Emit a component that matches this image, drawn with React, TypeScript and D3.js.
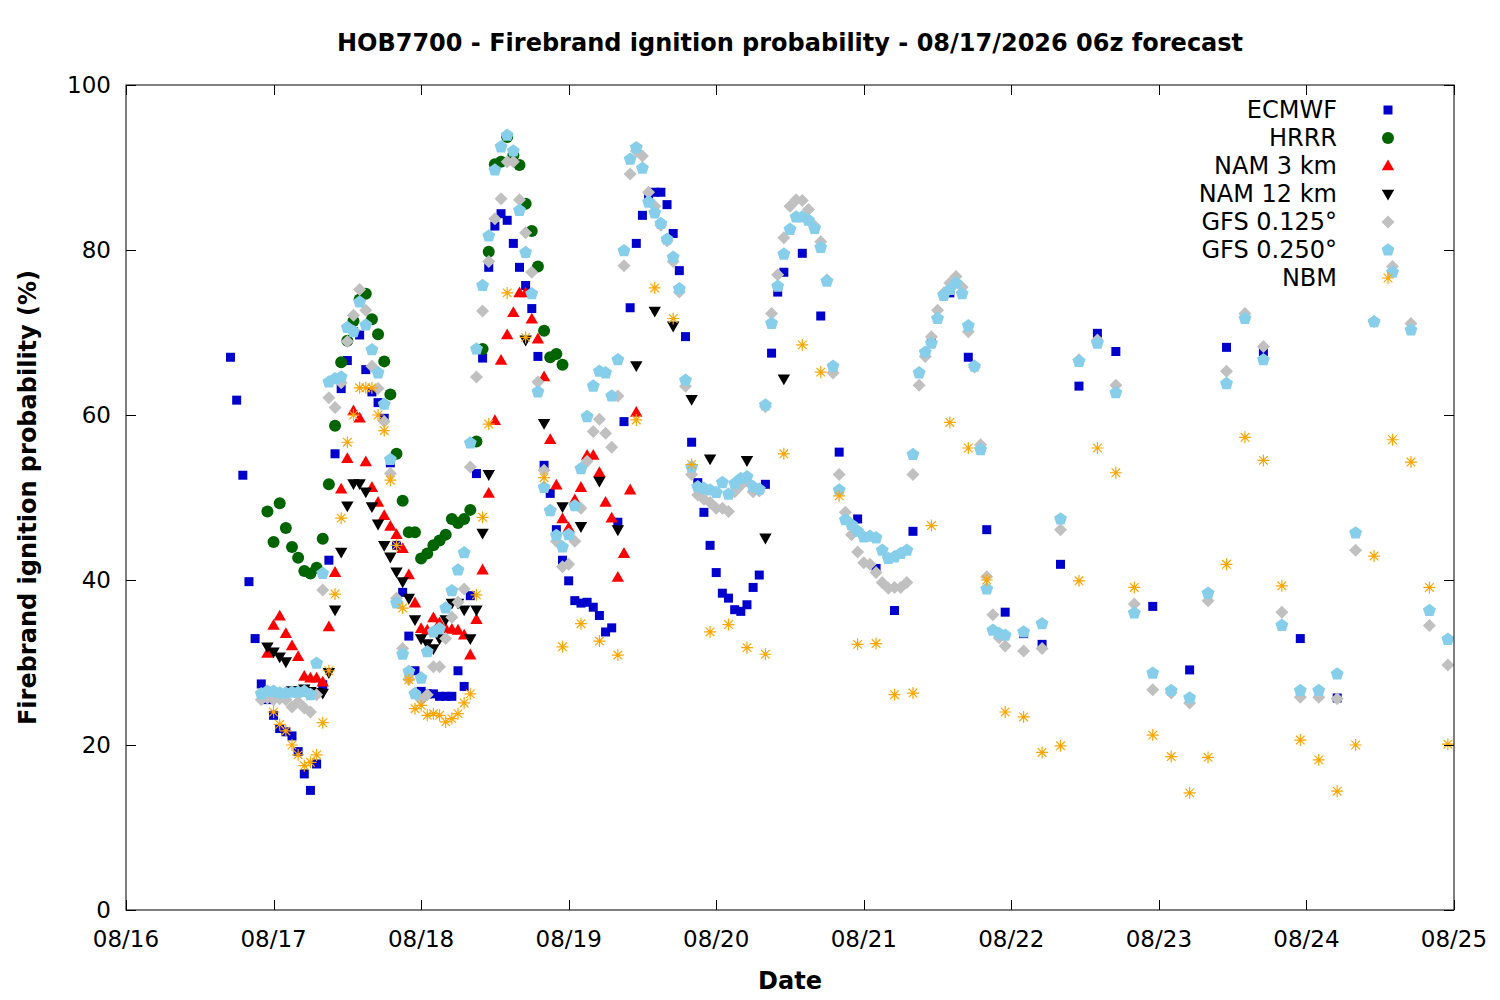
import React, { useEffect, useRef } from "react";
import * as d3 from "d3";

// hours are counted from 08/16 00z; each segment is a run of values at a fixed step
interface Segment {
  start: number;
  step: number;
  values: (number | null)[];
}

const dayLabels = ["08/16", "08/17", "08/18", "08/19", "08/20", "08/21", "08/22", "08/23", "08/24", "08/25"];
const yTicks = [0, 20, 40, 60, 80, 100];

const ecmwf: Segment[] = [
  {
    start: 17,
    step: 1,
    values: [
      67.0, 61.8, 52.7, 39.8, 32.9, 27.4, 25.5, 23.6, 22.0, 21.6, 21.1, 19.2, 16.5, 14.5, 17.7, 27.3,
      42.4, 55.3, 63.2, 66.6, 70.1, 69.7, 65.5, 62.8, 61.5, 59.6, 54.2, 44.2, 38.5, 33.2, 29.0, 26.5,
      26.2, 26.2, 25.9, 25.9, 25.9, 29.0, 27.1, 38.1, 52.9, 66.9, 77.9, 82.9, 84.4, 83.6, 80.8, 77.9,
      75.7, 72.9, 67.1, 53.9, 50.5, 46.1, 42.4, 39.9, 37.5, 37.2, 37.3, 36.7, 35.7, 33.7, 34.2, 47.0,
      59.2, 73.0, 80.8, 84.2, 86.4, 87.0, 87.0, 85.5, 82.0, 77.5, 69.5, 56.7, 51.8, 48.2, 44.2, 40.9,
      38.4, 37.8, 36.4, 36.2, 37.0, 39.1, 40.6, 51.6, 67.5, 74.9, 77.3,
    ],
  },
  {
    start: 110,
    step: 3,
    values: [79.6, 72.0, 55.5, 47.4, 41.4, 36.3, 45.9, 69.0, 74.8, 67.0, 46.1, 36.1, 33.5, 32.2, 41.9, 63.5, 69.9, 67.7],
  },
  { start: 167, step: 6, values: [36.8, 29.1, 68.2, 67.7, 32.9, 25.7] },
];

const hrrr: Segment[] = [
  {
    start: 23,
    step: 1,
    values: [
      48.3, 44.6, 49.3, 46.3, 44.0, 42.7, 41.1, 40.8, 41.5, 45.0, 51.6, 58.7, 66.4, 69.0, 71.4, 74.0,
      74.7, 71.6, 69.8, 66.5, 62.5, 55.3, 49.6, 45.8, 45.8, 42.6, 43.2, 44.2, 44.8, 45.5, 47.4, 46.9,
      47.4, 48.5, 56.8, 68.0, 79.8, 90.4, 90.7, 93.7, 91.5, 90.3, 85.6, 82.3, 78.0, 70.2, 67.0, 67.4,
      66.1,
    ],
  },
];

const nam3: Segment[] = [
  {
    start: 23,
    step: 1,
    values: [
      31.1, 34.5, 35.6, 33.5, 32.0, 30.7, 28.3, 28.1, 28.1, 27.6, 34.3, 40.9, 51.0, 54.7, 60.5, 59.6,
      54.3, 51.2, 49.4, 47.8, 46.5, 45.5, 43.8, 40.6, 37.2, 34.1, 33.9, 35.4, 34.8, 34.1, 34.0, 33.9,
      33.3, 30.9, 35.2, 41.2, 50.5, 59.3, 66.6, 69.7, 72.4, 74.8, 74.8, 71.6, 69.2, 64.6, 57.0, 51.5,
      47.4, 46.3, 49.7, 51.2, 55.1, 55.1, 53.0, 49.4, 47.5, 40.3, 43.2, 50.9, 60.3,
    ],
  },
];

const nam12: Segment[] = [
  {
    start: 23,
    step: 1,
    values: [
      31.9, 31.3, 30.7, 30.1, 26.6, 26.6, 26.8, 26.5, 26.4, 26.3, 28.8, 36.4, 43.4, 49.0, 51.7, 51.7,
      50.7, 48.9, 46.8, 44.2, 42.8, 41.0, 39.8, 37.8, 35.2, 32.9, 32.3, 31.7, 32.9, 35.2, 37.2, 37.2,
      36.4, 32.9, 36.4, 45.7, 52.8,
    ],
  },
  { start: 65, step: 3, values: [69.1, 59.0, 48.9, 46.5, 52.0, 46.1, 66.0, 72.6, 70.8, 61.9, 54.7, null, 54.5, 45.1, 64.4] },
];

const gfs0125: Segment[] = [
  {
    start: 22,
    step: 1,
    values: [
      25.5, 25.7, 25.5, 25.6, 25.5, 24.6, 25.2, 24.5, 24.0, 26.1, 38.8, 62.1, 60.9, 63.9, 68.9, 72.1,
      75.2, 72.7, 65.9, 63.2, 59.2, 52.9, 37.8, 31.7, 28.0, 26.3, 25.5, 26.1, 29.5, 29.5, 32.9, 35.5,
      37.3, 38.9, 53.7, 64.6, 72.6, 78.6, 83.8, 86.2, 90.7, 90.7, 86.1, 82.1, 77.3, 64.0, 53.3, 48.5,
      44.7, 41.6, 41.9, 44.7, 48.7, 54.4, 58.0, 59.5, 57.8, 56.1, 62.3, 78.1, 89.2, 92.0, 91.4, 87.0,
      85.3, 83.0, 81.1, 78.6, 74.9, 63.5, 52.8, 50.3, 49.8, 49.4, 48.7, 48.7, 48.3, 50.7, 51.5, 52.0,
      50.7, 50.8, 61.0, 72.3, 77.0, 81.5, 85.3, 86.1, 86.0, 84.9, 82.9, 81.0, 76.4, 65.1, 52.8, 48.2,
      45.5, 43.4, 42.1, 41.9, 40.9, 39.7, 39.0, 39.1, 39.1, 39.7, 52.8, 63.6, 67.1, 69.5, 72.7, 74.8,
      76.0, 76.8, 75.5, 70.1, 65.8, 56.4, 40.4, 35.8, 33.0, 32.0,
    ],
  },
  {
    start: 146,
    step: 3,
    values: [
      31.4, 31.7, 46.1, 66.7, 69.1, 63.6, 37.1, 26.7, 26.3, 25.1, 37.5, 65.3, 72.3, 68.3, 36.1, 25.8,
      25.8, 25.6, 43.6, 71.3, 78.0, 71.1, 34.5, 29.7,
    ],
  },
];

const gfs0250: Segment[] = [
  {
    start: 22,
    step: 1,
    values: [
      26.2, 26.5, 26.5, 26.3, 26.3, 26.4, 26.4, 26.5, 26.1, 29.9, 40.8, 64.0, 64.4, 64.6, 70.6, 70.1,
      73.7, 70.9, 67.9, 65.1, 61.3, 54.6, 37.2, 31.0, 28.9, 26.2, 28.1, 31.3, 33.7, 34.1, 36.6, 38.7,
      41.2, 43.3, 56.6, 68.0, 75.7, 81.7, 89.7, 92.5, 93.9, 92.0, 84.8, 79.7, 74.7, 62.8, 51.2, 48.4,
      45.4, 44.0, 45.5, 49.0, 53.5, 59.8, 63.5, 65.3, 65.1, 62.3, 66.7, 79.9, 91.0, 92.4, 89.9, 85.8,
      84.5, 83.2, 81.3, 79.1, 75.3, 64.2, 53.7, 51.3, 51.1, 50.9, 50.6, 51.8, 50.4, 51.7, 52.3, 52.5,
      51.3, 51.0, 61.2, 71.1, 75.6, 79.5, 82.5, 84.0, 84.0, 83.6, 82.6, 80.3, 76.2, 65.9, 50.9, 47.3,
      46.7, 45.9, 45.2, 45.3, 45.1, 43.6, 42.6, 42.8, 43.2, 43.6, 55.2, 65.1, 67.6, 68.7, 71.7, 74.5,
      75.2, 76.0, 74.7, 70.8, 65.9, 55.8, 38.9, 33.9, 33.5, 33.3,
    ],
  },
  {
    start: 146,
    step: 3,
    values: [
      33.7, 34.7, 47.4, 66.5, 68.7, 62.7, 36.0, 28.7, 26.6, 25.7, 38.4, 63.8, 71.7, 66.7, 34.5, 26.6,
      26.6, 28.6, 45.7, 71.3, 77.3, 70.3, 36.3, 32.8,
    ],
  },
];

const nbm: Segment[] = [
  {
    start: 24,
    step: 1,
    values: [
      24.0, 22.5, 21.7, 20.0, 18.8, 17.5, 17.9, 18.8, 22.7, 29.0, 38.3, 47.5, 56.7, 60.0, 63.3, 63.3,
      63.3, 60.0, 58.1, 52.1, 44.2, 36.6, 27.9, 24.4, 24.8, 23.6, 23.8, 23.6, 22.8, 23.2, 23.8, 25.1,
      26.2, 38.2, 47.6, 58.9,
    ],
  },
  {
    start: 62,
    step: 3,
    values: [
      74.8, 69.4, 52.4, 31.9, 34.7, 32.6, 30.9, 59.4, 75.4, 71.7, 54.0, 33.7, 34.6, 31.8, 31.0, 55.3,
      68.5, 65.2, 50.2, 32.2, 32.3, 26.1, 26.3, 46.6, 59.1, 56.0, 40.0, 24.0, 23.4, 19.1, 19.9, 39.9,
      56.0, 53.0, 39.1, 21.2, 18.6, 14.2, 18.5, 41.9, 57.3, 54.5, 39.3, 20.6, 18.2, 14.4, 20.0, 42.9,
      57.0, 54.3, 39.1, 20.1,
    ],
  },
];

// marker outlines, centred on 0,0
const pentagon = d3
  .range(5)
  .map((i) => {
    const a = -Math.PI / 2 + (i * 2 * Math.PI) / 5;
    return `${(6.8 * Math.cos(a)).toFixed(2)},${(6.8 * Math.sin(a)).toFixed(2)}`;
  })
  .join("L");

const shapes: Record<string, string> = {
  square: "M-4.5,-4.5h9v9h-9Z",
  circle: "M-6,0a6,6 0 1,0 12,0a6,6 0 1,0 -12,0Z",
  triUp: "M0,-6.5L6.2,4.3L-6.2,4.3Z",
  triDown: "M0,6.5L6.2,-4.3L-6.2,-4.3Z",
  diamond: "M0,-6.5L6.5,0L0,6.5L-6.5,0Z",
  pentagon: `M${pentagon}Z`,
  star: "M-6,0H6M0,-6V6M-4.3,-4.3L4.3,4.3M-4.3,4.3L4.3,-4.3",
};

const series = [
  { name: "ECMWF", data: ecmwf, color: "#0000cc", shape: "square" },
  { name: "HRRR", data: hrrr, color: "#006400", shape: "circle" },
  { name: "NAM 3 km", data: nam3, color: "#ff0000", shape: "triUp" },
  { name: "NAM 12 km", data: nam12, color: "#000000", shape: "triDown" },
  { name: "GFS 0.125°", data: gfs0125, color: "#c0c0c0", shape: "diamond" },
  { name: "GFS 0.250°", data: gfs0250, color: "#87ceeb", shape: "pentagon" },
  { name: "NBM", data: nbm, color: "#ffa500", shape: "star" },
];

const t0 = Date.UTC(2026, 7, 16);
const hourToDate = (h: number) => new Date(t0 + h * 3600 * 1000);

const toPoints = (segs: Segment[]) =>
  segs.flatMap((s) =>
    s.values
      .map((v, i) => (v == null ? null : { h: s.start + i * s.step, v }))
      .filter((p): p is { h: number; v: number } => p !== null)
  );

const FONT = "'DejaVu Sans', sans-serif";
const FS = 24;

export default function App() {
  const svgRef = useRef<SVGSVGElement>(null);

  useEffect(() => {
    if (!svgRef.current) return;
    const svg = d3.select(svgRef.current);
    svg.selectAll("*").remove();

    const left = 126;
    const right = 1454;
    const top = 85;
    const bottom = 910;
    const tick = 10;

    const x = d3.scaleUtc().domain([hourToDate(0), hourToDate(24 * 9)]).range([left, right]);
    const y = d3.scaleLinear().domain([0, 100]).range([bottom, top]);

    svg.append("rect").attr("width", 1500).attr("height", 1000).attr("fill", "#fff");

    // points, in plotting order
    series.forEach((s) => {
      const g = svg.append("g");
      const pts = toPoints(s.data);
      const sel = g
        .selectAll("path")
        .data(pts)
        .enter()
        .append("path")
        .attr("d", shapes[s.shape])
        .attr("transform", (d) => `translate(${x(hourToDate(d.h))},${y(d.v)})`);
      if (s.shape === "star") {
        sel.attr("fill", "none").attr("stroke", s.color).attr("stroke-width", 1.2);
      } else {
        sel.attr("fill", s.color);
      }
    });

    // frame and mirrored ticks
    const axes = svg.append("g").attr("stroke", "#000").attr("stroke-width", 1);
    axes
      .append("rect")
      .attr("x", left)
      .attr("y", top)
      .attr("width", right - left)
      .attr("height", bottom - top)
      .attr("fill", "none");

    const days = x.ticks(d3.utcDay.every(1));
    days.forEach((d) => {
      const px = Math.round(x(d)) + 0.5;
      axes.append("line").attr("x1", px).attr("x2", px).attr("y1", bottom).attr("y2", bottom - tick);
      axes.append("line").attr("x1", px).attr("x2", px).attr("y1", top).attr("y2", top + tick);
    });
    yTicks.forEach((v) => {
      const py = Math.round(y(v)) + 0.5;
      axes.append("line").attr("x1", left).attr("x2", left + tick).attr("y1", py).attr("y2", py);
      axes.append("line").attr("x1", right).attr("x2", right - tick).attr("y1", py).attr("y2", py);
    });

    const text = svg.append("g").attr("font-family", FONT).attr("fill", "#000");

    days.forEach((d, i) => {
      text
        .append("text")
        .attr("x", x(d))
        .attr("y", 947)
        .attr("text-anchor", "middle")
        .attr("font-size", FS - 1)
        .text(dayLabels[i] ?? d3.utcFormat("%m/%d")(d));
    });
    yTicks.forEach((v) => {
      text
        .append("text")
        .attr("x", 111)
        .attr("y", y(v) + 8)
        .attr("text-anchor", "end")
        .attr("font-size", FS - 1)
        .text(String(v));
    });

    text
      .append("text")
      .attr("x", (left + right) / 2)
      .attr("y", 51)
      .attr("text-anchor", "middle")
      .attr("font-size", FS)
      .attr("font-weight", "bold")
      .text("HOB7700 - Firebrand ignition probability - 08/17/2026 06z forecast");

    text
      .append("text")
      .attr("x", (left + right) / 2)
      .attr("y", 989)
      .attr("text-anchor", "middle")
      .attr("font-size", FS)
      .attr("font-weight", "bold")
      .text("Date");

    text
      .append("text")
      .attr("transform", `translate(36,${(top + bottom) / 2}) rotate(-90)`)
      .attr("text-anchor", "middle")
      .attr("font-size", FS)
      .attr("font-weight", "bold")
      .text("Firebrand ignition probability (%)");

    // legend
    const legend = svg.append("g").attr("font-family", FONT);
    series.forEach((s, i) => {
      const ly = 110 + i * 28;
      legend
        .append("text")
        .attr("x", 1337)
        .attr("y", ly + 8)
        .attr("text-anchor", "end")
        .attr("font-size", FS)
        .text(s.name);
      const m = legend.append("path").attr("d", shapes[s.shape]).attr("transform", `translate(1388,${ly})`);
      if (s.shape === "star") m.attr("fill", "none").attr("stroke", s.color).attr("stroke-width", 1.2);
      else m.attr("fill", s.color);
    });
  }, []);

  return (
    <svg
      ref={svgRef}
      width={1500}
      height={1000}
      style={{ position: "absolute", left: 0, top: 0, display: "block" }}
    />
  );
}
